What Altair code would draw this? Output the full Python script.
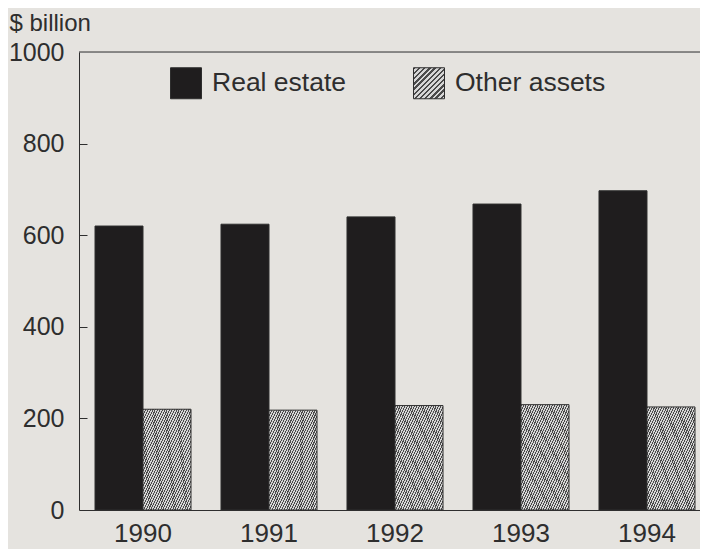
import altair as alt
import pandas as pd

# ---- data ----
years = ["1990", "1991", "1992", "1993", "1994"]
real_estate = [620, 624, 640, 668, 697]
other_assets = [220, 218, 228, 230, 225]
series = ["Real estate", "Other assets"]
y_ticks = [0, 200, 400, 600, 800, 1000]
inner_ticks = [200, 400, 600, 800]

rows = []
for i, yr in enumerate(years):
    rows.append({"year": yr, "series": series[0], "value": real_estate[i]})
    rows.append({"year": yr, "series": series[1], "value": other_assets[i]})
df = pd.DataFrame(rows)
frame_df = pd.DataFrame({"v": [y_ticks[-1]]})

FONT = "Liberation Sans"
INK = "#2e2e2e"
SOLID = "#1f1d1e"


def hatch(n_stripes, dark="#4a4a4a", light="#d6d6d6", duty=0.45):
    """Diagonal (/) stripes as a hard-stop linear gradient."""
    stops = []
    for k in range(n_stripes):
        a = k / n_stripes
        b = (k + duty) / n_stripes
        c = (k + 1) / n_stripes
        stops += [
            f"{{offset:{a:.5f},color:'{dark}'}}",
            f"{{offset:{b:.5f},color:'{dark}'}}",
            f"{{offset:{b:.5f},color:'{light}'}}",
            f"{{offset:{c:.5f},color:'{light}'}}",
        ]
    return "{gradient:'linear',x1:0,y1:0,x2:1,y2:1,stops:[" + ",".join(stops) + "]}"


x_enc = alt.X(
    "year:N",
    title=None,
    sort=years,
    scale=alt.Scale(paddingInner=0.238, paddingOuter=0.127, range=[0, 632]),
    axis=alt.Axis(
        labelAngle=0, tickSize=0, labelPadding=10, labelFontSize=26,
        labelColor=INK, domainColor=INK, domainWidth=1, labelFont=FONT,
    ),
)
xoff_enc = alt.XOffset("series:N", sort=series,
                       scale=alt.Scale(paddingInner=0, paddingOuter=0))
y_scale = alt.Scale(domain=[0, 1000], nice=False)

bars = alt.Chart(df).mark_bar(stroke=INK, strokeWidth=1).encode(
    x=x_enc,
    xOffset=xoff_enc,
    y=alt.Y(
        "value:Q",
        scale=y_scale,
        axis=alt.Axis(
            values=y_ticks, format="d", tickSize=0, labelPadding=15,
            labelFontSize=25, labelColor=INK, domainColor=INK, domainWidth=1,
            grid=False, labelFont=FONT,
            title="$ billion", titleAngle=0, titleX=-70, titleY=-22,
            titleAlign="left", titleBaseline="alphabetic", titleFontSize=24,
            titleFontWeight="normal", titleColor=INK, titleFont=FONT,
        ),
    ),
    color=alt.Color(
        "series:N",
        sort=series,
        scale=alt.Scale(domain=series, range=[SOLID, {"expr": hatch(40)}]),
        legend=None,
    ),
)

# invisible copy of the bars that only carries the legend (hatch sized for the small swatch)
legend_layer = alt.Chart(df).mark_bar(opacity=0).encode(
    x=x_enc,
    xOffset=xoff_enc,
    y=alt.Y("value:Q", scale=y_scale, axis=None),
    color=alt.Color(
        "series:N",
        sort=series,
        scale=alt.Scale(domain=series, range=[SOLID, {"expr": hatch(12)}]),
        legend=alt.Legend(
            title=None, orient="none", legendX=91, legendY=15,
            direction="horizontal", symbolType="square", symbolSize=961,
            labelFontSize=26.5, labelOffset=10, columnPadding=64, padding=0,
            symbolStrokeColor=INK, symbolStrokeWidth=1, symbolOpacity=1,
            labelColor=INK, labelFont=FONT,
        ),
    ),
)

frame = alt.Chart(frame_df).mark_rule(color=INK, strokeWidth=1).encode(
    y=alt.Y(
        "v:Q",
        scale=y_scale,
        axis=alt.Axis(
            orient="left", offset=-8, tickSize=8, labels=False, domain=False,
            values=inner_ticks, title=None, grid=False, tickColor=INK,
        ),
    )
)

chart = (
    alt.layer(bars, legend_layer, frame)
    .resolve_axis(y="independent")
    .resolve_scale(color="independent")
    .properties(
        width=621, height=458, background="#e5e3df",
        autosize=alt.AutoSizeParams(type="none"),
        padding={"left": 71, "top": 44, "right": 0, "bottom": 39},
    )
    .configure_view(strokeWidth=0)
    .configure(font=FONT)
)

chart.save("out.html", embed_options={"renderer": "svg", "actions": False})
